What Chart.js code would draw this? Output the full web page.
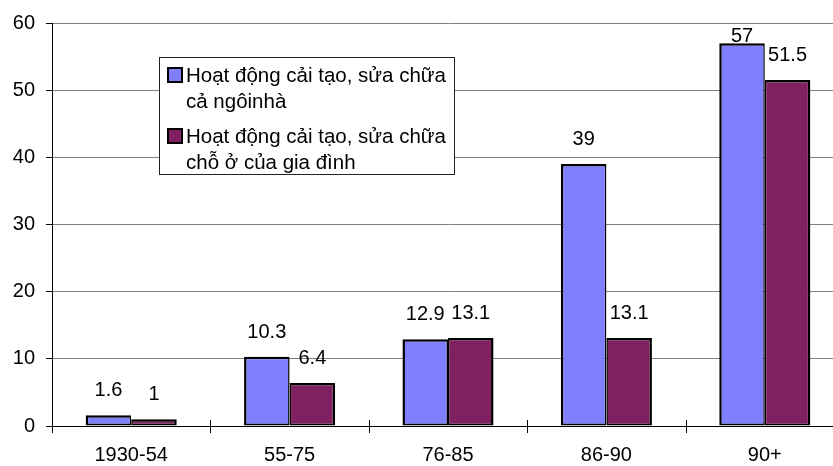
<!DOCTYPE html>
<html>
<head>
<meta charset="utf-8">
<script src="https://cdn.jsdelivr.net/npm/chart.js@4/dist/chart.umd.min.js"></script>
<style>
  html, body { margin: 0; padding: 0; overflow: hidden; background: #fff; }
  #wrap { width: 846px; height: 466px; }
</style>
</head>
<body>
<div id="wrap"><canvas id="c" width="846" height="466"></canvas></div>
<script>
// Periods of construction
const categories = ['1930-54', '55-75', '76-85', '86-90', '90+'];
// Renovation / repair of the whole house
const wholeHouse = [1.6, 10.3, 12.9, 39, 57];
// Renovation / repair of the family's living space
const familySpace = [1, 6.4, 13.1, 13.1, 51.5];
// Legend text, one array of lines per series
const seriesNames = [
  ['Hoạt động cải tạo, sửa chữa', 'cả ngôinhà'],
  ['Hoạt động cải tạo, sửa chữa', 'chỗ ở của gia đình']
];
const yMin = 0, yMax = 60, yStep = 10;

const FONT = "'Liberation Sans', Arial, sans-serif";
const FONT_SIZE = 20;
const LEGEND_FONT_SIZE = 20.5;
const BLUE = '#8080FF';
const PLUM = '#802060';

// Numbers printed above each bar
const valueLabels = {
  id: 'valueLabels',
  afterDatasetsDraw(chart) {
    const ctx = chart.ctx;
    ctx.save();
    ctx.font = FONT_SIZE + 'px ' + FONT;
    ctx.fillStyle = '#000';
    ctx.textAlign = 'center';
    ctx.textBaseline = 'middle';
    chart.data.datasets.forEach((ds, di) => {
      chart.getDatasetMeta(di).data.forEach((bar, i) => {
        const y = Math.max(bar.y - 24.5, chart.chartArea.top + 13);
        ctx.fillText(String(ds.data[i]), bar.x, y);
      });
    });
    ctx.restore();
  }
};

// Tick marks crossing the category axis between groups
const crossTicks = {
  id: 'crossTicks',
  afterDraw(chart) {
    const xs = chart.scales.x;
    const n = chart.data.labels.length;
    const ctx = chart.ctx;
    ctx.save();
    ctx.strokeStyle = '#000';
    ctx.lineWidth = 1;
    ctx.beginPath();
    for (let i = 0; i <= n; i++) {
      const x = Math.round(xs.left + (xs.right - xs.left) * i / n) + 0.5;
      ctx.moveTo(x, xs.top - 6);
      ctx.lineTo(x, xs.top + 7);
    }
    ctx.stroke();
    ctx.restore();
  }
};

// Boxed legend with two-line entries
const boxLegend = {
  id: 'boxLegend',
  afterDraw(chart) {
    const ctx = chart.ctx;
    const box = { x: 159.5, y: 57.5, w: 295, h: 117 };
    ctx.save();
    ctx.fillStyle = '#fff';
    ctx.fillRect(box.x, box.y, box.w, box.h);
    ctx.strokeStyle = '#222';
    ctx.lineWidth = 1;
    ctx.strokeRect(box.x, box.y, box.w, box.h);
    ctx.font = LEGEND_FONT_SIZE + 'px ' + FONT;
    ctx.textAlign = 'left';
    ctx.textBaseline = 'alphabetic';
    const firstBaselines = [82, 143];
    chart.data.datasets.forEach((ds, di) => {
      const base = firstBaselines[di];
      ctx.fillStyle = ds.backgroundColor;
      ctx.fillRect(168, base - 14, 14, 14);
      ctx.strokeStyle = '#000';
      ctx.lineWidth = 2;
      ctx.strokeRect(168, base - 14, 14, 14);
      ctx.fillStyle = '#000';
      seriesNames[di].forEach((line, li) => {
        ctx.fillText(line, 186, base + li * 26);
      });
    });
    ctx.restore();
  }
};

new Chart(document.getElementById('c'), {
  type: 'bar',
  data: {
    labels: categories,
    datasets: [
      {
        label: seriesNames[0].join(' '),
        data: wholeHouse,
        backgroundColor: BLUE,
        borderColor: '#000',
        borderWidth: { top: 2.5, left: 2.5, bottom: 2, right: 1.5 },
        borderSkipped: false
      },
      {
        label: seriesNames[1].join(' '),
        data: familySpace,
        backgroundColor: PLUM,
        borderColor: '#000',
        borderWidth: { top: 2.5, left: 1.5, bottom: 2, right: 2.5 },
        borderSkipped: false
      }
    ]
  },
  options: {
    responsive: false,
    animation: false,
    devicePixelRatio: 1,
    layout: { padding: { top: 21, right: 2, left: 0, bottom: 0 } },
    datasets: { bar: { categoryPercentage: 0.575, barPercentage: 1 } },
    plugins: {
      legend: { display: false },
      tooltip: { enabled: false }
    },
    scales: {
      x: {
        offset: true,
        grid: { display: false },
        border: { display: true, color: '#000', width: 1 },
        ticks: {
          color: '#000',
          padding: 9,
          font: { family: FONT, size: FONT_SIZE }
        },
        afterFit(scale) { scale.height = 40; }
      },
      y: {
        min: yMin,
        max: yMax,
        ticks: {
          stepSize: yStep,
          color: '#000',
          padding: 11,
          font: { family: FONT, size: FONT_SIZE }
        },
        grid: {
          color: '#808080',
          lineWidth: 1,
          tickLength: 6,
          tickColor: '#000'
        },
        border: { display: true, color: '#000', width: 1 },
        afterFit(scale) { scale.width = 52; }
      }
    }
  },
  plugins: [valueLabels, crossTicks, boxLegend]
});
</script>
</body>
</html>
